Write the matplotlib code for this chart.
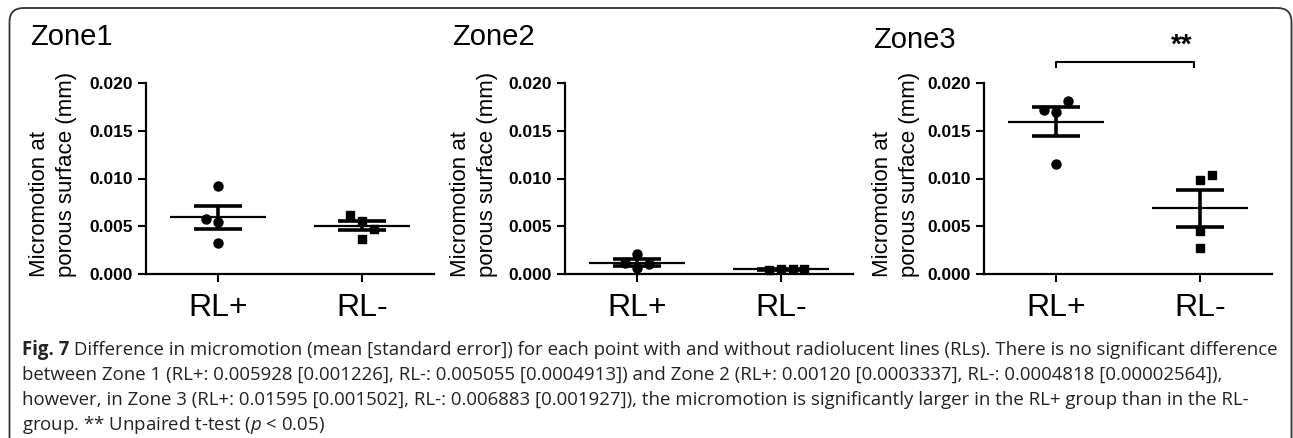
import matplotlib
matplotlib.use('Agg')
import matplotlib.pyplot as plt
from matplotlib.patches import FancyBboxPatch
from matplotlib.transforms import IdentityTransform

W, H = 1293, 438

zones = ['Zone1', 'Zone2', 'Zone3']
groups = ['RL+', 'RL-']

rl_pos = [[0.0092, 0.0058, 0.0054, 0.0032],
          [0.0021, 0.0011, 0.0010, 0.0006],
          [0.0181, 0.0172, 0.0170, 0.0115]]
rl_neg = [[0.0062, 0.0056, 0.0047, 0.0037],
          [0.00045, 0.00050, 0.00048, 0.00050],
          [0.0098, 0.0104, 0.0045, 0.0027]]
# sideways spread of the dots, as drawn by the original software
pos_spread = [[0, -0.08, 0, 0], [0, -0.08, 0.08, 0], [0.08, -0.08, 0, 0]]
neg_spread = [[-0.08, 0, 0.08, 0], [-0.08, 0, 0.08, 0.16], [0, 0.08, 0, 0]]

# mean and standard error from the caption
means = [[0.005928, 0.005055], [0.00120, 0.0004818], [0.01595, 0.006883]]
sems = [[0.001226, 0.0004913], [0.0003337, 0.00002564], [0.001502, 0.001927]]

yticks = [0.000, 0.005, 0.010, 0.015, 0.020]

caption_head = "Fig. 7"
caption = [
    " Difference in micromotion (mean [standard error]) for each point with and without radiolucent lines (RLs). There is no significant difference",
    "between Zone 1 (RL+: 0.005928 [0.001226], RL-: 0.005055 [0.0004913]) and Zone 2 (RL+: 0.00120 [0.0003337], RL-: 0.0004818 [0.00002564]),",
    "however, in Zone 3 (RL+: 0.01595 [0.001502], RL-: 0.006883 [0.001927]), the micromotion is significantly larger in the RL+ group than in the RL-",
    r"group. ** Unpaired t-test ($\mathit{p}$ < 0.05)",
]

plt.rcParams['font.family'] = ['Liberation Sans', 'DejaVu Sans']
plt.rcParams['mathtext.fontset'] = 'custom'
plt.rcParams['mathtext.rm'] = 'Open Sans'
plt.rcParams['mathtext.it'] = 'Open Sans:italic'

fig = plt.figure(figsize=(W / 100, H / 100), dpi=100)

# rounded frame around the figure
frame = FancyBboxPatch((9.5, -30), 1282, 460, boxstyle='round,pad=0,rounding_size=14',
                       transform=IdentityTransform(), fill=False, ec='#333333', lw=1.3)
fig.patches.append(frame)

ax_left = [146, 565, 984]
title_x = [30, 452, 873]
title_y = [37, 37, 40]
ylab_x = [53, 474, 896]

for i, zone in enumerate(zones):
    ax = fig.add_axes([ax_left[i] / W, (H - 274) / H, 288 / W, 191 / H])
    for g, (vals, spread, mk, ms) in enumerate([(rl_pos[i], pos_spread[i], 'o', 42),
                                                 (rl_neg[i], neg_spread[i], 's', 36)]):
        xs = [g + s for s in spread]
        ax.scatter(xs, vals, marker=mk, s=ms, color='black', zorder=3, clip_on=False)
        m, se = means[i][g], sems[i][g]
        ax.hlines(m, g - 0.335, g + 0.335, color='black', lw=1.6, zorder=4)
        ax.hlines([m - se, m + se], g - 0.17, g + 0.17, color='black', lw=2.6, zorder=4)
        ax.vlines(g, m - se, m + se, color='black', lw=2.6, zorder=4)

    ax.set_xlim(-0.5, 1.5)
    ax.set_ylim(0, 0.02)
    ax.set_yticks(yticks)
    ax.set_yticklabels([f'{v:.3f}' for v in yticks], fontsize=12.5, fontweight='bold')
    ax.set_xticks([0, 1])
    ax.set_xticklabels(groups, fontsize=23)
    ax.tick_params(axis='both', length=6, width=1.5, color='black')
    ax.tick_params(axis='x', pad=8)
    for s in ['top', 'right']:
        ax.spines[s].set_visible(False)
    for s in ['left', 'bottom']:
        ax.spines[s].set_linewidth(1.6)
    ax.patch.set_alpha(0)

    fig.text(title_x[i] / W, (H - title_y[i]) / H, zone, fontsize=21, ha='left', va='center')
    fig.text(ylab_x[i] / W, (H - 277) / H, 'Micromotion at\nporous surface (mm)',
             rotation=90, fontsize=16, ha='center', va='bottom',
             multialignment='left', linespacing=1.35)

    if i == 2:
        ax.plot([0, 0, 0.958, 0.958], [0.0217, 0.0222, 0.0222, 0.0217],
                color='black', lw=1.5, clip_on=False)
        ax.text(0.875, 0.0239, '**', fontsize=20, fontweight='bold',
                ha='center', va='center', clip_on=False)

# caption below the panels
cap_y = [355, 380, 405, 430]
cap_size = 13.4
renderer = fig.canvas.get_renderer()
head = fig.text(22 / W, (H - cap_y[0]) / H, caption_head, fontsize=cap_size, family='Open Sans',
                fontweight='bold', color='#222222', ha='left', va='baseline')
head_end = head.get_window_extent(renderer).x1
for j, (line, y) in enumerate(zip(caption, cap_y)):
    x0 = head_end / W if j == 0 else 22 / W
    fig.text(x0, (H - y) / H, line, fontsize=cap_size, family='Open Sans',
             color='#222222', ha='left', va='baseline')

fig.savefig('out.png', dpi=100)
